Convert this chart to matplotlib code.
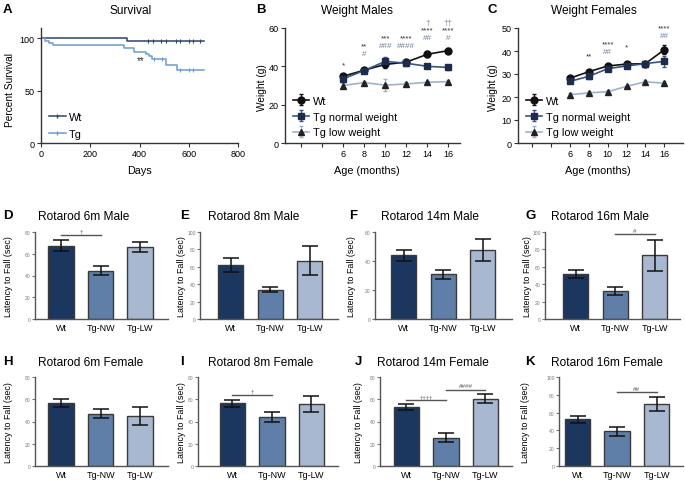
import matplotlib
matplotlib.use('Agg')
import matplotlib.pyplot as plt
from matplotlib.lines import Line2D
import numpy as np

plt.rcParams['font.family'] = ['Liberation Sans', 'DejaVu Sans']

W, H = 685, 485

# ---- A: survival ----
wt_days = [0, 350, 660]
wt_surv = [100, 97.6, 97.6]
wt_censor = [436, 454, 488, 507, 549, 565, 599, 616, 646]
tg_days = [0, 15, 33, 47, 336, 378, 425, 440, 452, 507, 554, 660]
tg_surv = [100, 98, 96, 93.6, 91, 87, 85.5, 83, 80, 75, 70, 70]
tg_censor = [457, 493, 565, 599, 616]

# ---- B / C: body weight ----
months = [6, 8, 10, 12, 14, 16]
male_wt = [34.8, 38.0, 41.0, 42.2, 46.3, 48.2]
male_wt_err = [1.3, 1.0, 1.8, 1.2, 1.5, 1.5]
male_nw = [33.5, 37.8, 42.6, 41.6, 40.0, 39.4]
male_nw_err = [1.5, 1.0, 2.5, 1.5, 1.0, 1.2]
male_lw = [30.0, 31.5, 30.2, 30.8, 31.7, 32.0]
male_lw_err = [1.2, 0.8, 3.0, 1.0, 0.8, 1.0]
fem_wt = [28.2, 31.0, 33.5, 34.3, 34.5, 40.5]
fem_wt_err = [0.8, 0.8, 0.8, 0.8, 0.6, 2.0]
fem_nw = [26.8, 29.0, 32.3, 33.5, 34.5, 35.5]
fem_nw_err = [0.8, 1.0, 1.0, 0.8, 0.8, 2.5]
fem_lw = [21.0, 21.8, 22.3, 24.6, 26.6, 26.0]
fem_lw_err = [0.7, 0.6, 0.6, 0.8, 0.8, 0.8]

male_sig_x = [6, 8, 8, 10, 10, 12, 12, 14, 14, 14, 16, 16, 16]
male_sig_y = [40.5, 50.5, 46.5, 54.8, 51, 54.8, 51, 62.7, 58.8, 54.8, 62.7, 58.8, 54.8]
male_sig_txt = ['*', '**', '#', '***', '###', '****', '####', '†', '****', '##', '††', '****', '#']
fem_sig_x = [8, 10, 10, 12, 16, 16]
fem_sig_y = [37.8, 42.9, 39.8, 41.7, 50, 46.8]
fem_sig_txt = ['**', '****', '##', '*', '****', '##']

# ---- D-K: rotarod ----
groups = ['Wt', 'Tg-NW', 'Tg-LW']
rot_titles = ['Rotarod 6m Male', 'Rotarod 8m Male', 'Rotarod 14m Male', 'Rotarod 16m Male',
              'Rotarod 6m Female', 'Rotarod 8m Female', 'Rotarod 14m Female', 'Rotarod 16m Female']
rot_letters = ['D', 'E', 'F', 'G', 'H', 'I', 'J', 'K']
rot_mean = [[67.5, 44.3, 66.0], [62.2, 33.6, 67.0], [43.8, 30.7, 47.5], [51.5, 32.4, 73.3],
            [56.5, 47.0, 45.0], [56.3, 44.0, 56.0], [52.8, 25.4, 60.5], [52.5, 38.9, 70.0]]
rot_sem = [[5.0, 4.0, 4.5], [7.8, 2.8, 16.8], [3.5, 3.4, 7.4], [4.8, 4.7, 18.0],
           [3.9, 4.2, 8.1], [3.0, 4.3, 7.2], [2.6, 4.1, 4.0], [3.8, 4.7, 7.8]]
rot_ymax = [80, 100, 60, 100, 80, 80, 80, 100]
# significance bars
sig_panel = [0, 3, 5, 6, 6, 7]
sig_from = [0, 1, 0, 0, 1, 1]
sig_to = [1, 2, 1, 1, 2, 2]
sig_y = [77.3, 97.4, 63.8, 59.0, 68.5, 83.0]
sig_txt = ['†', '#', '†', '††††', '####', '##']

bar_colors = ['#1b365f', '#5f7fa8', '#a8b8d1']


def rect(l, t, r, b):
    return [l / W, 1 - b / H, (r - l) / W, (b - t) / H]


def ftext(x, y, s, **kw):
    fig.text(x / W, 1 - y / H, s, **kw)


def style(ax, col='#333333', lw=1.0):
    for s in ['top', 'right']:
        ax.spines[s].set_visible(False)
    for s in ['left', 'bottom']:
        ax.spines[s].set_color(col)
        ax.spines[s].set_linewidth(lw)


fig = plt.figure(figsize=(W / 100, H / 100), dpi=100)

# ---- A ----
ax = fig.add_axes(rect(41, 29, 238, 144))
style(ax)
wt_c, tg_c = '#2b4470', '#6e9bd1'
ax.step(wt_days, wt_surv, where='post', color=wt_c, lw=1.1)
ax.step(tg_days, tg_surv, where='post', color=tg_c, lw=1.1)
wi = np.searchsorted(wt_days, wt_censor, side='right') - 1
ti = np.searchsorted(tg_days, tg_censor, side='right') - 1
ax.plot(wt_censor, np.array(wt_surv)[wi], '|', color=wt_c, ms=3, mew=0.8)
ax.plot(tg_censor, np.array(tg_surv)[ti], '|', color=tg_c, ms=3, mew=0.8)
ax.text(403, 79, '**', ha='center', va='center', fontsize=7, color='#333')
ax.set_xlim(0, 800)
ax.set_ylim(0, 110)
ax.set_xticks([0, 200, 400, 600, 800])
ax.set_yticks([0, 50, 100])
ax.tick_params(labelsize=6.5, length=3, color='#333', pad=1.5)
hs = [Line2D([], [], color=wt_c, marker='|', ms=3, lw=1.1),
      Line2D([], [], color=tg_c, marker='|', ms=3, lw=1.1)]
ax.legend(hs, ['Wt', 'Tg'], loc='lower left', frameon=False, fontsize=7.8,
          handlelength=1.5, handletextpad=0.3, labelspacing=0.65,
          borderaxespad=0, bbox_to_anchor=(0.02, 0.0))
ftext(140, 171, 'Days', ha='center', va='center', fontsize=7.8)
ftext(10, 90, 'Percent Survival', ha='center', va='center', rotation=90, fontsize=7.3)
ftext(131, 11, 'Survival', ha='center', va='center', fontsize=8.6)
ftext(3, 10, 'A', ha='left', va='center', fontsize=9.5, fontweight='bold')


# ---- B / C ----
def weight_panel(box, ylim, yt, xl, series, sx, sy, st, title, tx, letter, lx, ylx, agex):
    ax = fig.add_axes(rect(*box))
    style(ax)
    specs = [('o', '#111111', '#111111', 'Wt'),
             ('s', '#1d2c4c', '#3a5580', 'Tg normal weight'),
             ('^', '#222222', '#9cb2d0', 'Tg low weight')]
    for (m, mc, lc, lab), (y, e) in zip(specs, series):
        ax.errorbar(months, y, yerr=e, color=lc, marker=m, mfc=mc, mec=mc, ms=5,
                    lw=1.2, elinewidth=0.9, capsize=1.5, label=lab)
    for x, y, s in zip(sx, sy, st):
        c = '#333333' if '*' in s else '#6f7f99'
        ax.text(x, y, s, ha='center', va='center', fontsize=5.8, color=c, clip_on=False)
    ax.set_xlim(*xl)
    ax.set_ylim(*ylim)
    ax.set_yticks(yt)
    ax.set_xticks([2, 4, 6, 8, 10, 12, 14, 16])
    ax.set_xticklabels(['', '', '6', '8', '10', '12', '14', '16'])
    ax.tick_params(labelsize=6.5, length=3, color='#333', pad=1.5)
    ax.legend(loc='upper left', bbox_to_anchor=(0.02, 0.45), frameon=False, fontsize=7.8,
              handlelength=1.5, handletextpad=0.4, labelspacing=0.55, borderaxespad=0)
    ftext(agex, 171, 'Age (months)', ha='center', va='center', fontsize=7.8)
    ftext(ylx, 88, 'Weight (g)', ha='center', va='center', rotation=90, fontsize=7.3)
    ftext(tx, 11, title, ha='center', va='center', fontsize=8.6)
    ftext(lx, 10, letter, ha='left', va='center', fontsize=9.5, fontweight='bold')


weight_panel((285, 29, 460, 144), (0, 60), [0, 20, 40, 60], (0.48, 17.1),
             [(male_wt, male_wt_err), (male_nw, male_nw_err), (male_lw, male_lw_err)],
             male_sig_x, male_sig_y, male_sig_txt, 'Weight Males', 357, 'B', 256, 262, 367)
weight_panel((518, 29, 683, 144), (0, 50), [0, 10, 20, 30, 40, 50], (0.47, 18.0),
             [(fem_wt, fem_wt_err), (fem_nw, fem_nw_err), (fem_lw, fem_lw_err)],
             fem_sig_x, fem_sig_y, fem_sig_txt, 'Weight Females', 594, 'C', 487, 493, 598)

# ---- D-K ----
# per panel layout: left, right, xmin, title centre, letter x, ylabel x
lay = [(35, 168, -0.66, 84, 3, 9), (200, 338, -0.78, 254, 180, 181),
       (375, 512, -0.73, 430, 349, 351), (545, 680, -0.78, 600, 525, 528),
       (35, 168, -0.66, 91, 3, 9), (198, 338, -0.87, 261, 180, 181),
       (380, 512, -0.67, 433, 355, 358), (559, 683, -0.47, 607, 525, 525)]
rows = [(233, 320, 217), (378, 467, 363)]
axes = []
for i in range(8):
    l, r, xmin, tcx, lx, ylx = lay[i]
    top, bot, ty = rows[i // 4]
    ax = fig.add_axes(rect(l, top, r, bot))
    style(ax, col='#555555', lw=1.0)
    x = np.arange(3)
    ax.bar(x, rot_mean[i], width=0.64, color=bar_colors, edgecolor='#3a3a3a', lw=1.0, zorder=2)
    ax.errorbar(x, rot_mean[i], yerr=rot_sem[i], fmt='none', ecolor='#111', elinewidth=1.1,
                capsize=6, capthick=1.1, zorder=3)
    ax.set_xlim(xmin, xmin + (r - l) / 39.5)
    ax.set_ylim(0, rot_ymax[i])
    ax.set_yticks(np.arange(0, rot_ymax[i] + 1, 20))
    ax.set_xticks(x)
    ax.set_xticklabels(groups)
    ax.tick_params(axis='x', length=0, labelsize=6.5, pad=3)
    ax.tick_params(axis='y', length=2, labelsize=3.6, labelcolor='#777', color='#777', pad=1)
    ftext(tcx, ty, rot_titles[i], ha='center', va='center', fontsize=8.6)
    ftext(lx, ty - 1, rot_letters[i], ha='left', va='center', fontsize=9.5, fontweight='bold')
    ftext(ylx, (top + bot) / 2, 'Latency to Fall (sec)', ha='center', va='center',
          rotation=90, fontsize=6.4)
    axes.append(ax)

for p, a, b, y, s in zip(sig_panel, sig_from, sig_to, sig_y, sig_txt):
    ax = axes[p]
    ax.plot([a, b], [y, y], color='#555', lw=1.0, clip_on=False)
    ax.text((a + b) / 2, y + rot_ymax[p] * 0.015, s, ha='center', va='bottom',
            fontsize=4.5, color='#555', clip_on=False)

fig.savefig('out.png', dpi=100)
